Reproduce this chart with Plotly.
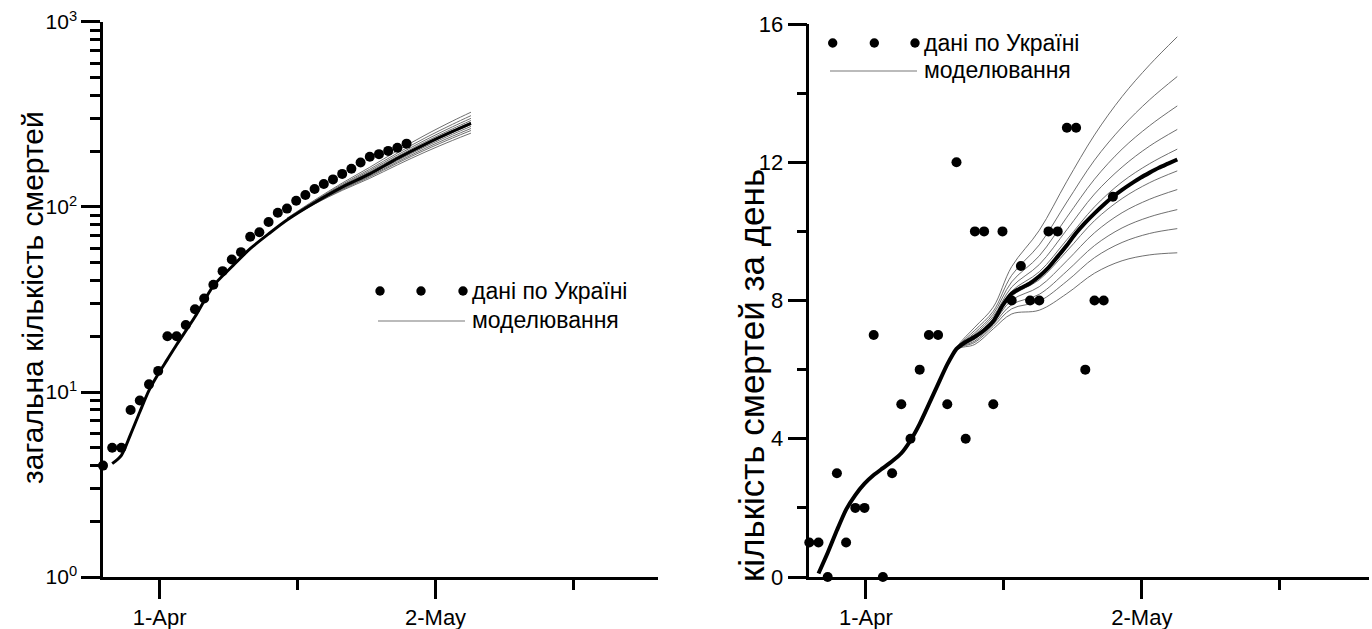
import plotly.graph_objects as go

W, H = 1372, 629

# ---------------- data ----------------
obs_day = [0, 1, 2, 3, 4, 5, 6, 7, 8, 9, 10, 11, 12, 13, 14, 15, 16,
           17, 18, 19, 20, 21, 22, 23, 24, 25, 26, 27, 28, 29, 30, 31, 32, 33]
obs_total = [4, 5, 5, 8, 9, 11, 13, 20, 20, 23, 28, 32, 38, 45, 52, 57, 69,
             73, 83, 93, 98, 108, 116, 125, 133, 141, 151, 161, 174, 187, 193, 201, 209, 220]
obs_daily = [1, 1, 0, 3, 1, 2, 2, 7, 0, 3, 5, 4, 6, 7, 7, 5, 12,
             4, 10, 10, 5, 10, 8, 9, 8, 8, 10, 10, 13, 13, 6, 8, 8, 11]

# main model, cumulative deaths (left panel)
model_total_day = [1, 2, 3, 4, 5, 6, 7, 8, 10, 12, 14, 16, 18, 20, 23, 26, 29, 32, 35, 38, 40]
model_total = [4.1, 4.55, 5.9, 7.8, 10.2, 12.5, 15, 18, 25.5, 37.5, 47.5, 59.5, 71.5, 85,
               105.5, 128, 151, 183, 218, 256, 283]

# ensemble of model runs, cumulative (left panel)
ens_total_day = [20, 23, 26, 29, 32, 35, 38, 40]
ens_total = [
    [87.0, 109.0, 134.7, 163.9, 201.5, 244.4, 291.6, 325.4],
    [86.7, 108.0, 132.5, 160.1, 195.5, 235.9, 280.0, 311.7],
    [86.4, 107.3, 130.9, 157.2, 191.1, 229.5, 271.5, 301.5],
    [86.2, 106.7, 129.6, 154.9, 187.5, 224.5, 264.7, 293.4],
    [86.1, 106.3, 128.6, 153.0, 184.6, 220.2, 259.0, 286.6],
    [85.9, 105.7, 127.4, 150.9, 181.3, 215.5, 252.7, 279.1],
    [85.8, 105.3, 126.4, 149.1, 178.5, 211.5, 247.3, 272.6],
    [85.6, 104.8, 125.3, 147.1, 175.4, 207.2, 241.5, 265.7],
    [85.4, 104.3, 124.2, 145.3, 172.6, 203.1, 236.0, 259.1],
    [85.2, 103.7, 122.9, 142.9, 168.9, 197.9, 229.0, 250.8],
]

# main model, daily deaths (right panel)
model_daily_day = [1, 2, 3, 4, 5, 6, 7, 8, 9, 10, 11, 12, 13, 14, 15, 16, 17, 18, 19, 20,
                   21, 22, 23, 24, 25, 26, 27, 28, 29, 30, 31, 32, 33, 34, 35, 36, 37, 38, 39, 40]
model_daily = [0.1, 0.7, 1.35, 1.95, 2.37, 2.7, 2.95, 3.15, 3.35, 3.58, 3.95, 4.43, 5.0, 5.58,
               6.15, 6.6, 6.8, 6.95, 7.14, 7.4, 7.85, 8.2, 8.36, 8.5, 8.7, 8.95, 9.27, 9.6,
               9.95, 10.25, 10.52, 10.77, 11.0, 11.2, 11.38, 11.55, 11.7, 11.84, 11.96, 12.08]

# ensemble of model runs, daily (right panel)
ens_daily_day = [14, 16, 18, 20, 22, 25, 28, 31, 34, 37, 40]
ens_daily = [
    [5.58, 6.64, 7.23, 7.81, 8.98, 10.03, 11.45, 12.79, 13.90, 14.82, 15.63],
    [5.58, 6.62, 7.14, 7.69, 8.73, 9.61, 10.85, 12.06, 13.02, 13.81, 14.48],
    [5.58, 6.62, 7.07, 7.61, 8.54, 9.29, 10.41, 11.51, 12.38, 13.06, 13.63],
    [5.58, 6.61, 7.02, 7.54, 8.39, 9.04, 10.05, 11.08, 11.86, 12.47, 12.95],
    [5.58, 6.60, 6.97, 7.48, 8.27, 8.83, 9.76, 10.71, 11.43, 11.96, 12.38],
    [5.58, 6.60, 6.92, 7.42, 8.13, 8.60, 9.43, 10.31, 10.95, 11.41, 11.75],
    [5.58, 6.59, 6.88, 7.36, 8.01, 8.40, 9.15, 9.96, 10.54, 10.93, 11.21],
    [5.58, 6.59, 6.83, 7.31, 7.88, 8.18, 8.85, 9.59, 10.10, 10.42, 10.63],
    [5.58, 6.58, 6.79, 7.25, 7.76, 7.98, 8.56, 9.24, 9.68, 9.94, 10.08],
    [5.58, 6.57, 6.73, 7.18, 7.61, 7.72, 8.20, 8.79, 9.15, 9.32, 9.38],
]

x_major_vals = [6.15, 36.15]
x_major_text = ["1-Apr", "2-May"]
x_minor_vals = [21.15, 51.15]

ylog_vals = [1, 10, 100, 1000]
ylog_text = ["10<sup>0</sup>", "10<sup>1</sup>", "10<sup>2</sup>", "10<sup>3</sup>"]
ylog_minor = [2, 3, 4, 5, 6, 7, 8, 9, 20, 30, 40, 50, 60, 70, 80, 90,
              200, 300, 400, 500, 600, 700, 800, 900]
ylin_vals = [0, 4, 8, 12, 16]
ylin_minor = [2, 6, 10, 14]

legend_data = "дані по Україні"
legend_model = "моделювання"
title_left = "загальна кількість смертей"
title_right = "кількість смертей за день"

# ---------------- figure ----------------
FONT = "Liberation Sans, Arial, sans-serif"
THIN = "rgb(95,95,95)"


def px(x):
    return x / W


def py(y):
    return 1 - y / H


fig = go.Figure()

# left panel
for run in ens_total:
    fig.add_trace(go.Scatter(x=ens_total_day, y=run, mode="lines",
                             line=dict(color=THIN, width=0.9, shape="spline"),
                             xaxis="x", yaxis="y", showlegend=False, hoverinfo="skip"))
fig.add_trace(go.Scatter(x=model_total_day, y=model_total, mode="lines",
                         line=dict(color="black", width=3, shape="spline", smoothing=0.8),
                         xaxis="x", yaxis="y", showlegend=False))
fig.add_trace(go.Scatter(x=obs_day, y=obs_total, mode="markers",
                         marker=dict(color="black", size=10),
                         cliponaxis=False, xaxis="x", yaxis="y", showlegend=False))

# right panel
for run in ens_daily:
    fig.add_trace(go.Scatter(x=ens_daily_day, y=run, mode="lines",
                             line=dict(color=THIN, width=0.9, shape="spline"),
                             xaxis="x2", yaxis="y2", showlegend=False, hoverinfo="skip"))
fig.add_trace(go.Scatter(x=model_daily_day, y=model_daily, mode="lines",
                         line=dict(color="black", width=4, shape="spline", smoothing=0.6),
                         xaxis="x2", yaxis="y2", showlegend=False))
fig.add_trace(go.Scatter(x=obs_day, y=obs_daily, mode="markers",
                         marker=dict(color="black", size=10),
                         cliponaxis=False, xaxis="x2", yaxis="y2", showlegend=False))

axis_common = dict(showline=True, linecolor="black", linewidth=2.5, showgrid=False,
                   zeroline=False, ticks="outside", ticklen=19, tickwidth=2.5,
                   tickcolor="black", automargin=False, ticklabeloverflow="allow")

xaxis_common = dict(axis_common, tickmode="array", tickvals=x_major_vals, ticktext=x_major_text,
                    tickfont=dict(family=FONT, size=22, color="black"),
                    minor=dict(tickmode="array", tickvals=x_minor_vals, ticks="outside",
                               ticklen=10, tickwidth=2.5, tickcolor="black", showgrid=False))

fig.update_layout(
    width=W, height=H,
    margin=dict(l=0, r=0, t=0, b=0, autoexpand=False),
    paper_bgcolor="white", plot_bgcolor="white",
    showlegend=False,
    xaxis=dict(xaxis_common, domain=[px(103), px(658)], range=[0, 60.33], anchor="y"),
    yaxis=dict(axis_common, type="log", domain=[py(577), py(21.8)], range=[0, 3.001], anchor="x",
               tickmode="array", tickvals=ylog_vals, ticktext=ylog_text,
               tickfont=dict(family=FONT, size=21, color="black"),
               minor=dict(tickmode="array", tickvals=ylog_minor, ticks="outside",
                          ticklen=10, tickwidth=2.5, tickcolor="black", showgrid=False)),
    xaxis2=dict(xaxis_common, domain=[px(809.3), px(1369)], range=[0, 60.84], anchor="y2"),
    yaxis2=dict(axis_common, domain=[py(577), py(24)], range=[0, 16], anchor="x2",
                tickmode="array", tickvals=ylin_vals,
                tickfont=dict(family=FONT, size=22, color="black"),
                minor=dict(tickmode="array", tickvals=ylin_minor, ticks="outside",
                           ticklen=10, tickwidth=2.5, tickcolor="black", showgrid=False)),
)

annotations = [
    dict(text=title_left, x=px(32), y=py(298), xref="paper", yref="paper", textangle=-90,
         showarrow=False, xanchor="center", yanchor="middle",
         font=dict(family=FONT, size=30, color="black")),
    dict(text=title_right, x=px(751), y=py(376), xref="paper", yref="paper", textangle=-90,
         showarrow=False, xanchor="center", yanchor="middle",
         font=dict(family=FONT, size=35, color="black")),
]
shapes = []


def add_legend(dots_x, dot_y, line_x0, line_x1, line_y, text_x):
    for cx in dots_x:
        shapes.append(dict(type="circle", xref="paper", yref="paper",
                           x0=px(cx - 4.7), x1=px(cx + 4.7), y0=py(dot_y + 4.7), y1=py(dot_y - 4.7),
                           fillcolor="black", line=dict(width=0)))
    shapes.append(dict(type="line", xref="paper", yref="paper",
                       x0=px(line_x0), x1=px(line_x1), y0=py(line_y), y1=py(line_y),
                       line=dict(color="rgb(120,120,120)", width=1.2)))
    annotations.append(dict(text=legend_data, x=px(text_x), y=py(dot_y), xref="paper", yref="paper",
                            showarrow=False, xanchor="left", yanchor="middle",
                            font=dict(family=FONT, size=23, color="black")))
    annotations.append(dict(text=legend_model, x=px(text_x), y=py(line_y - 1), xref="paper", yref="paper",
                            showarrow=False, xanchor="left", yanchor="middle",
                            font=dict(family=FONT, size=23, color="black")))


add_legend([380, 421, 463], 291, 378, 465, 321, 470)
add_legend([832.7, 874.3, 915], 43, 830, 917, 71, 922)

fig.update_layout(annotations=annotations, shapes=shapes)

# remove the default page margin so the 1372x629 figure fills the window exactly
fig.write_html("out.html",
               config={"displayModeBar": False},
               post_script="document.body.style.margin='0';document.body.style.overflow='hidden';")
